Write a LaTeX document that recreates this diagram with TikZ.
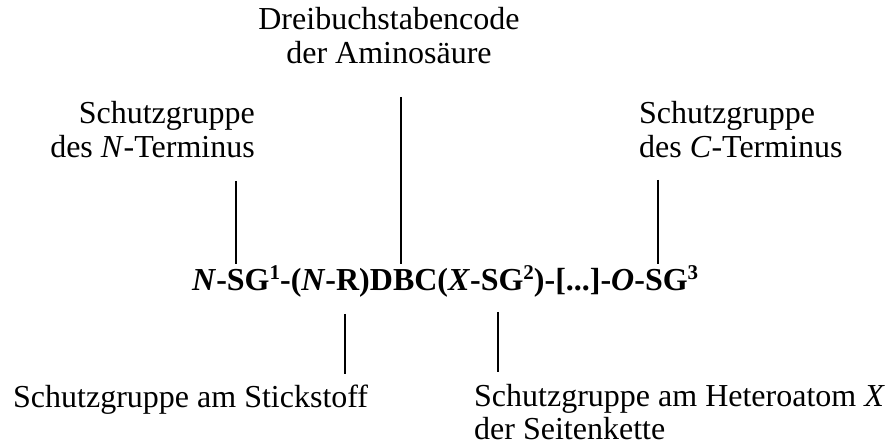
\documentclass[tikz,border=0pt]{standalone}
\usepackage{fontspec}
\setmainfont{Liberation Serif}
\newcommand{\supnum}[1]{\raisebox{0.36em}{\fontsize{21}{21}\selectfont #1}}
\tikzset{
  lbl/.style={inner sep=0pt, font=\fontsize{32}{34}\selectfont},
  formula/.style={inner sep=0pt, font=\fontsize{32}{34}\selectfont\bfseries},
  pointer/.style={line width=2pt}
}
\begin{document}
\begin{tikzpicture}[x=1pt,y=-1pt]
\useasboundingbox (0,0) rectangle (887,446);
% formula
\node[formula, anchor=base west] (f) at (192,291)
  {\textit{N}-SG\supnum{1}-(\textit{N}-R)DBC(\textit{X}-SG\supnum{2})-[...]-\textit{O}-SG\supnum{3}};
% labels (base anchor = baseline of the last line)
\node[lbl, align=center, anchor=base] (dbc) at (389,63.5) {Dreibuchstabencode\\der Aminosäure};
\node[lbl, align=right, anchor=base east] (nt) at (255,158) {Schutzgruppe\\des \textit{N}-Terminus};
\node[lbl, align=left, anchor=base west] (ct) at (639,158) {Schutzgruppe\\des \textit{C}-Terminus};
\node[lbl, anchor=base west] (st) at (13,408) {Schutzgruppe am Stickstoff};
\node[lbl, align=left, anchor=base west] (ha) at (474,440) {Schutzgruppe am Heteroatom \textit{X}\\der Seitenkette};
% connector ends
\coordinate (n1) at (235.7,181); \coordinate (n2) at (235.7,264);
\coordinate (d1) at (401,97);    \coordinate (d2) at (401,264);
\coordinate (c1) at (658,180);   \coordinate (c2) at (658,264);
\coordinate (r1) at (345,314);   \coordinate (r2) at (345,374);
\coordinate (x1) at (497.7,312); \coordinate (x2) at (497.7,372);
\draw[pointer] (n1) -- (n2);
\draw[pointer] (d1) -- (d2);
\draw[pointer] (c1) -- (c2);
\draw[pointer] (r1) -- (r2);
\draw[pointer] (x1) -- (x2);
\end{tikzpicture}
\end{document}
